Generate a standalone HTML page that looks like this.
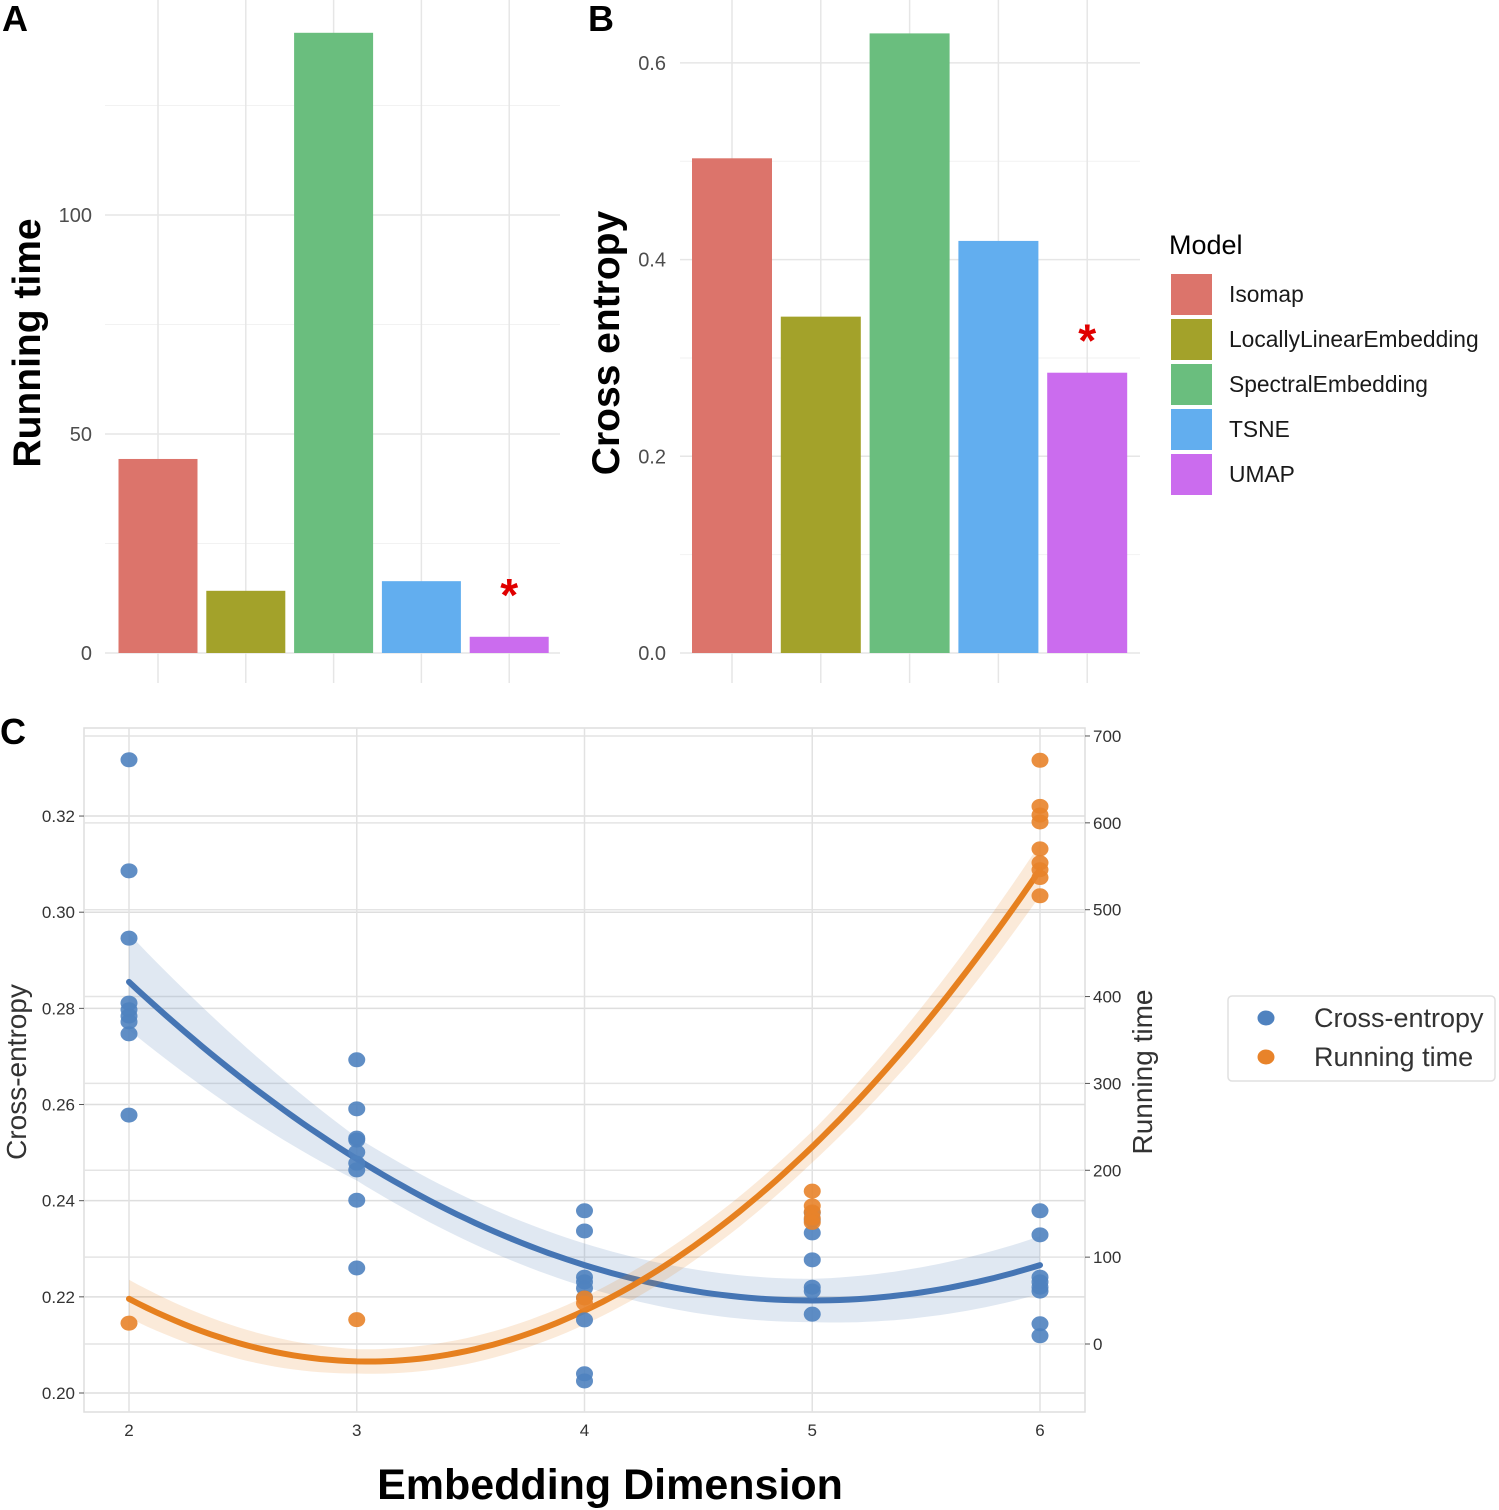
<!DOCTYPE html>
<html><head><meta charset="utf-8">
<style>
html,body{margin:0;padding:0;background:#fff;}
svg{display:block;font-family:"Liberation Sans",Arial,sans-serif;}
</style></head>
<body>
<svg id="fig" width="1499" height="1510" viewBox="0 0 1499 1510" xmlns="http://www.w3.org/2000/svg"></svg>
<script>
// ---------- data ----------
const models = ["Isomap","LocallyLinearEmbedding","SpectralEmbedding","TSNE","UMAP"];
const modelColors = ["#DC746B","#A3A22A","#6ABE7E","#62AEEF","#CB6CEE"];
const runTimeValues = [44.3, 14.2, 141.6, 16.4, 3.7];
const crossEntropyValues = [0.503, 0.342, 0.630, 0.419, 0.285];
const runTicks = [0, 50, 100];
const ceTicks = [0, 0.2, 0.4, 0.6];

const dims = [2,3,4,5,6];
const ceDim = [2,2,2,2,2,2,2,2,2, 3,3,3,3,3,3,3,3,3, 4,4,4,4,4,4,4,4,4, 5,5,5,5,5,5,5, 6,6,6,6,6,6,6,6];
const ceVal = [0.3317,0.3086,0.2946,0.2811,0.2797,0.2784,0.2772,0.2747,0.2578,
  0.2693,0.2591,0.2530,0.2526,0.2501,0.2478,0.2464,0.2401,0.2260,
  0.2379,0.2337,0.2241,0.2231,0.2218,0.2198,0.2152,0.2040,0.2025,
  0.2375,0.2360,0.2333,0.2277,0.2220,0.2212,0.2164,
  0.2379,0.2329,0.2241,0.2231,0.2220,0.2212,0.2144,0.2119];
const rtDim = [2,3,4,4,5,5,5,5,5,6,6,6,6,6,6,6,6,6];
const rtVal = [24,28,53,47,176,159,152,145,140,672,619,609,601,570,554,546,537,516];
// fitted curve values (quadratic fits)
const ceFitAt = [0.2855, 0.2266, 0.2266];   // at x = 2,4,6
const ceFitSe = [0.0100, 0.0045, 0.0045, 0.0045, 0.0060];
const rtFitAt = [52, -20, 546];             // at x = 2,3,6
const rtFitSe = [22, 14, 16, 18, 30];
const leftTicks = [0.20,0.22,0.24,0.26,0.28,0.30,0.32];
const rightTicks = [0,100,200,300,400,500,600,700];

// ---------- helpers ----------
const NS="http://www.w3.org/2000/svg";
const svg=document.getElementById('fig');
function mk(tag,attrs,parent,text){const e=document.createElementNS(NS,tag);for(const k in attrs)e.setAttribute(k,attrs[k]);if(text!==undefined)e.textContent=text;(parent||svg).appendChild(e);return e;}

// ---------- Panel A ----------
const gA=mk('g',{});


const yA=v=>653-v*4.38;
const xA=i=>158+i*87.8;
[25,75,125].forEach(v=>mk('line',{x1:105,x2:560,y1:yA(v),y2:yA(v),stroke:'#f2f2f2','stroke-width':1},gA));
runTicks.forEach(v=>mk('line',{x1:105,x2:560,y1:yA(v),y2:yA(v),stroke:'#e6e6e6','stroke-width':1.5},gA));
models.forEach((m,i)=>mk('line',{x1:xA(i),x2:xA(i),y1:0,y2:683,stroke:'#e6e6e6','stroke-width':1.5},gA));
models.forEach((m,i)=>{const r=mk('rect',{x:xA(i)-39.5,y:yA(runTimeValues[i]),width:79,height:yA(0)-yA(runTimeValues[i]),fill:modelColors[i]},gA);

});
runTicks.forEach(v=>{const t=mk('text',{x:92,y:yA(v)+7,'text-anchor':'end','font-size':20,fill:'#4d4d4d'},gA,String(v));

});
let t=mk('text',{x:xA(4),y:yA(runTimeValues[4])-26,'text-anchor':'middle','font-size':46,'font-weight':'bold',fill:'#e00000'},gA,'*');


t=mk('text',{x:40,y:343,transform:'rotate(-90 40 343)','text-anchor':'middle','font-size':39,'font-weight':'bold',fill:'#000'},gA,'Running time');


t=mk('text',{x:2,y:31,'font-size':36,'font-weight':'bold'},gA,'A');



// ---------- Panel B ----------
const gB=mk('g',{});


const yB=v=>653-v*983.5;
const xB=i=>732+i*88.8;
[0.1,0.3,0.5].forEach(v=>mk('line',{x1:680,x2:1140,y1:yB(v),y2:yB(v),stroke:'#f2f2f2','stroke-width':1},gB));
ceTicks.forEach(v=>mk('line',{x1:680,x2:1140,y1:yB(v),y2:yB(v),stroke:'#e6e6e6','stroke-width':1.5},gB));
models.forEach((m,i)=>mk('line',{x1:xB(i),x2:xB(i),y1:0,y2:683,stroke:'#e6e6e6','stroke-width':1.5},gB));
models.forEach((m,i)=>{const r=mk('rect',{x:xB(i)-40,y:yB(crossEntropyValues[i]),width:80,height:yB(0)-yB(crossEntropyValues[i]),fill:modelColors[i]},gB);

});
ceTicks.forEach(v=>{const t=mk('text',{x:666,y:yB(v)+7,'text-anchor':'end','font-size':20,fill:'#4d4d4d'},gB,v.toFixed(1));

});
t=mk('text',{x:xB(4),y:yB(crossEntropyValues[4])-16,'text-anchor':'middle','font-size':46,'font-weight':'bold',fill:'#e00000'},gB,'*');


t=mk('text',{x:619,y:343,transform:'rotate(-90 619 343)','text-anchor':'middle','font-size':39,'font-weight':'bold'},gB,'Cross entropy');


t=mk('text',{x:588,y:31,'font-size':36,'font-weight':'bold'},gB,'B');



// legend for A/B
const gL=mk('g',{});


t=mk('text',{x:1169,y:254,'font-size':27,fill:'#000'},gL,'Model');


models.forEach((m,i)=>{const y=274+i*45;
const r=mk('rect',{x:1171,y:y,width:41,height:41,fill:modelColors[i]},gL);


const tx=mk('text',{x:1229,y:y+28,'font-size':22.8,fill:'#1a1a1a'},gL,m);

});

// ---------- Panel C ----------
const gC=mk('g',{});


const xC=d=>129+(d-2)*227.75;
const yCL=v=>1393-(v-0.20)*4808;
const yCR=v=>1344-v*0.8686;
mk('rect',{x:84,y:728,width:1001,height:684,fill:'none',stroke:'#dedede','stroke-width':1.5},gC);
leftTicks.forEach(v=>mk('line',{x1:84,x2:1085,y1:yCL(v),y2:yCL(v),stroke:'#dedede','stroke-width':1.5},gC));
rightTicks.forEach(v=>mk('line',{x1:84,x2:1085,y1:yCR(v),y2:yCR(v),stroke:'#e4e4e4','stroke-width':1.5},gC));
dims.forEach(d=>mk('line',{x1:xC(d),x2:xC(d),y1:728,y2:1412,stroke:'#e2e2e2','stroke-width':1.5},gC));
leftTicks.forEach(v=>{mk('line',{x1:79,x2:84,y1:yCL(v),y2:yCL(v),stroke:'#555'},gC);
const t=mk('text',{x:75,y:yCL(v)+6,'text-anchor':'end','font-size':17,fill:'#333'},gC,v.toFixed(2));

});
rightTicks.forEach(v=>{mk('line',{x1:1085,x2:1090,y1:yCR(v),y2:yCR(v),stroke:'#555'},gC);
const t=mk('text',{x:1093,y:yCR(v)+6,'font-size':17,fill:'#333'},gC,String(v));

});
dims.forEach(d=>{const t=mk('text',{x:xC(d),y:1436,'text-anchor':'middle','font-size':17,fill:'#333'},gC,String(d));

});

function quad3(xs,ys){ // quadratic through 3 points
  return x=>{let s=0;for(let i=0;i<3;i++){let p=ys[i];for(let j=0;j<3;j++)if(j!==i)p*=(x-xs[j])/(xs[i]-xs[j]);s+=p;}return s;};}
const ceFit=quad3([2,4,6],ceFitAt);
const rtFit=quad3([2,3,6],rtFitAt);
function seAt(arr,x){const i=Math.min(3,Math.floor(x-2));const f=x-2-i;return arr[i]*(1-f)+arr[i+1]*f;}
function curveD(fn,ys,off){let pts=[];for(let k=0;k<=100;k++){const x=2+k*0.04;pts.push([xC(x),ys(fn(x)+off(x))]);}return pts;}
function drawFit(fn,se,ys,color,name){
  const up=curveD(fn,ys,x=>seAt(se,x)),dn=curveD(fn,ys,x=>-seAt(se,x)).reverse();
  const band=mk('path',{d:'M'+up.concat(dn).map(p=>p[0].toFixed(1)+','+p[1].toFixed(1)).join('L')+'Z',fill:color,'fill-opacity':0.17},gC);
  
  
  const mid=curveD(fn,ys,x=>0);
  const l=mk('path',{d:'M'+mid.map(p=>p[0].toFixed(1)+','+p[1].toFixed(1)).join('L'),fill:'none',stroke:color,'stroke-width':6,'stroke-linecap':'round'},gC);
  
  
}
const blue='#4575B4',orange='#E6801F';
drawFit(ceFit,ceFitSe,yCL,blue,'cross-entropy');
drawFit(rtFit,rtFitSe,yCR,orange,'running-time');
ceDim.forEach((d,i)=>{const c=mk('ellipse',{cx:xC(d),cy:yCL(ceVal[i]),rx:8.5,ry:7.5,fill:'#4F82BF','fill-opacity':0.9},gC);

});
rtDim.forEach((d,i)=>{const c=mk('ellipse',{cx:xC(d),cy:yCR(rtVal[i]),rx:8.5,ry:7.5,fill:'#E8832A','fill-opacity':0.9},gC);

});

t=mk('text',{x:26,y:1072,transform:'rotate(-90 26 1072)','text-anchor':'middle','font-size':28,fill:'#333'},gC,'Cross-entropy');


t=mk('text',{x:1152,y:1072,transform:'rotate(-90 1152 1072)','text-anchor':'middle','font-size':28,fill:'#333'},gC,'Running time');


t=mk('text',{x:610,y:1499,'text-anchor':'middle','font-size':43,'font-weight':'bold'},gC,'Embedding Dimension');


t=mk('text',{x:0,y:744,'font-size':36,'font-weight':'bold'},gC,'C');



// legend C
const gLC=mk('g',{});


mk('rect',{x:1228,y:996,width:267,height:85,rx:4,fill:'#fff',stroke:'#e0e0e0','stroke-width':1.5},gLC);
[['Cross-entropy','#4F82BF',1018],['Running time','#E8832A',1057]].forEach(([lab,col,y])=>{
const c=mk('ellipse',{cx:1266,cy:y,rx:8.5,ry:7.5,fill:col},gLC);


const tx=mk('text',{x:1314,y:y+9,'font-size':27,fill:'#333'},gLC,lab);

});
</script>
</body></html>
